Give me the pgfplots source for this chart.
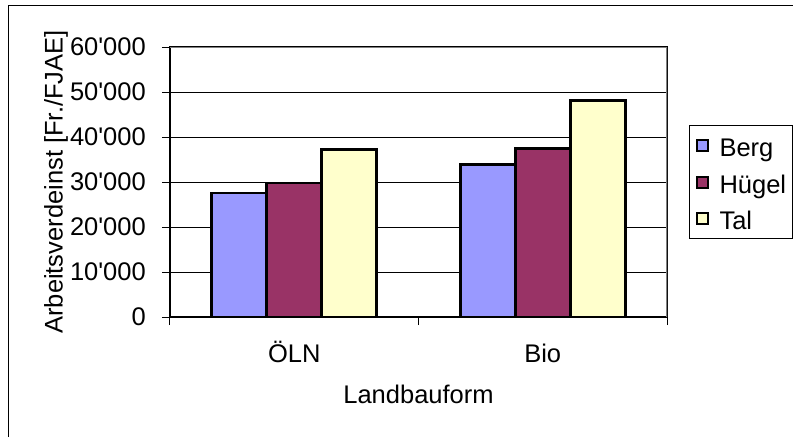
\documentclass[border=0pt]{standalone}
\usepackage{fontspec}
\setmainfont{Liberation Sans}
\usepackage{pgfplots}
\pgfplotsset{compat=1.18}
\definecolor{berg}{RGB}{153,153,255}
\definecolor{huegel}{RGB}{153,51,102}
\definecolor{tal}{RGB}{255,255,204}
\definecolor{rahmen}{RGB}{128,128,128}
\pgfplotsset{
    balken/.style={fill=#1, draw=black, line width=2.6pt,
        legend image code/.code={\draw[##1, line width=2pt] (0pt,-5.5pt) rectangle (11pt,5.5pt);}},
}

\begin{document}
\fontsize{25.5}{30}\selectfont
\begin{tikzpicture}
\useasboundingbox (0,0) rectangle (793pt,437pt);
% outer chart frame (only top and left edges visible)
\draw[line width=1.5pt] (8.3pt,0pt) -- (8.3pt,431.3pt) -- (793pt,431.3pt);
\begin{axis}[
    at={(170pt,120pt)}, anchor=south west,
    scale only axis, width=497pt, height=270pt,
    ybar=0pt, bar width=55pt,
    xmin=-0.5, xmax=1.5,
    xtick={0,1}, xticklabels={ÖLN,Bio},
    minor xtick={-0.5,0.5,1.5},
    ymin=0, ymax=60000,
    ytick={0,10000,20000,30000,40000,50000,60000},
    yticklabels={0,10\textquotesingle 000,20\textquotesingle 000,30\textquotesingle 000,40\textquotesingle 000,50\textquotesingle 000,60\textquotesingle 000},
    scaled y ticks=false,
    tick pos=left, tick align=outside,
    major tick length=8pt, minor tick length=8pt,
    major x tick style={draw=none},
    tick style={black, line width=1pt},
    axis line style={black, line width=1.2pt},
    ymajorgrids, major grid style={black, line width=0.8pt},
    yticklabel style={anchor=east, inner sep=0pt},
    yticklabel shift=16pt,
    xticklabel style={anchor=base, inner sep=0pt, yshift=-37.7pt},
    xlabel={Landbauform},
    xlabel style={at={(axis description cs:0.5,-0.3222)}, anchor=base, inner sep=0pt},
    ylabel={Arbeitsverdeinst [Fr./FJAE]},
    ylabel style={at={(axis description cs:-0.2163,0.5)}, anchor=base, inner sep=0pt},
    legend cell align=left,
    legend style={at={(axis description cs:1.0443,0.7111)}, anchor=north west,
        draw=black, line width=1pt, inner xsep=6pt, inner ysep=3pt,
        /tikz/row sep=3pt, /tikz/column sep=11pt,
        nodes={inner sep=0pt, text height=28pt, text depth=5.7pt},
        cells={anchor=west}},
]
\addplot[balken=berg] coordinates {(0,27600) (1,33900)};
\addlegendentry{Berg}
\addplot[balken=huegel] coordinates {(0,29800) (1,37500)};
\addlegendentry{Hügel}
\addplot[balken=tal] coordinates {(0,37200) (1,48100)};
\addlegendentry{Tal}
\draw[rahmen, line width=2pt] (rel axis cs:0,1) -- (rel axis cs:1,1) -- (rel axis cs:1,0);
\end{axis}
\end{tikzpicture}
\end{document}
